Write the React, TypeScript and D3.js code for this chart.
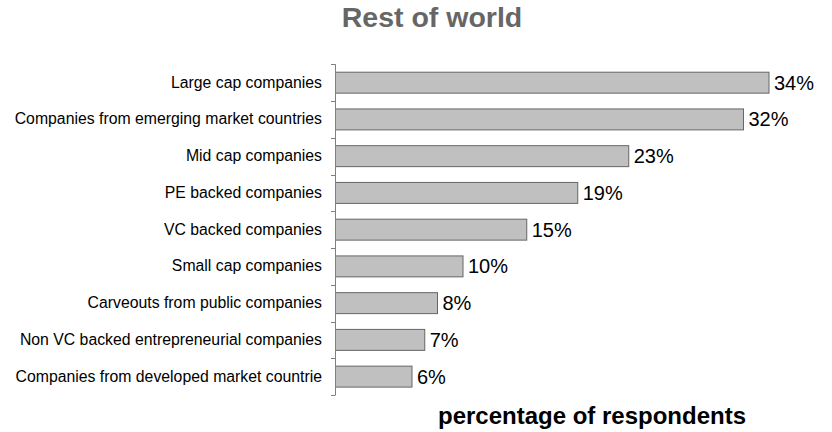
import React from "react";
import * as d3 from "d3";

const categories = [
  "Large cap companies",
  "Companies from emerging market countries",
  "Mid cap companies",
  "PE backed companies",
  "VC backed companies",
  "Small cap companies",
  "Carveouts from public companies",
  "Non VC backed entrepreneurial companies",
  "Companies from developed market countrie",
];
const values = [34, 32, 23, 19, 15, 10, 8, 7, 6];
const title = "Rest of world";
const axisLabel = "percentage of respondents";

const W = 832;
const H = 432;
const FONT = "'Liberation Sans', Arial, Helvetica, sans-serif";

export default function App() {
  const x = d3.scaleLinear().domain([0, 34]).range([335.5, 769]);
  const y = d3
    .scaleBand<string>()
    .domain(categories)
    .range([64.3, 395])
    .paddingInner(0.43)
    .paddingOuter(0.215);
  const step = y.step();
  const ticks = d3.range(categories.length + 1).map((i) => 64.3 + i * step);

  return (
    <svg
      width={W}
      height={H}
      style={{ position: "absolute", left: 0, top: 0, background: "#fff" }}
    >
      <text
        x={432}
        y={27.3}
        textAnchor="middle"
        fontFamily={FONT}
        fontWeight="bold"
        fontSize={28.5}
        fill="#666666"
      >
        {title}
      </text>
      {categories.map((c, i) => {
        const yc = (y(c) as number) + y.bandwidth() / 2;
        return (
          <g key={c}>
            <rect
              x={x(0)}
              y={y(c)}
              width={x(values[i]) - x(0)}
              height={y.bandwidth()}
              fill="#c0c0c0"
              stroke="#666666"
              strokeWidth={1}
            />
            <text
              x={322}
              y={yc + 5}
              textAnchor="end"
              fontFamily={FONT}
              fontSize={15.8}
              fill="#000"
            >
              {c}
            </text>
            <text
              x={x(values[i]) + 5}
              y={yc + 7}
              fontFamily={FONT}
              fontSize={20}
              fill="#000"
            >
              {values[i] + "%"}
            </text>
          </g>
        );
      })}
      <line
        x1={335.5}
        x2={335.5}
        y1={ticks[0]}
        y2={ticks[ticks.length - 1]}
        stroke="#808080"
        strokeWidth={1}
      />
      {ticks.map((t, i) => (
        <line
          key={i}
          x1={331}
          x2={335.5}
          y1={Math.round(t) + 0.5}
          y2={Math.round(t) + 0.5}
          stroke="#808080"
          strokeWidth={1}
        />
      ))}
      <text
        x={592}
        y={424}
        textAnchor="middle"
        fontFamily={FONT}
        fontWeight="bold"
        fontSize={24}
        fill="#000"
      >
        {axisLabel}
      </text>
    </svg>
  );
}
